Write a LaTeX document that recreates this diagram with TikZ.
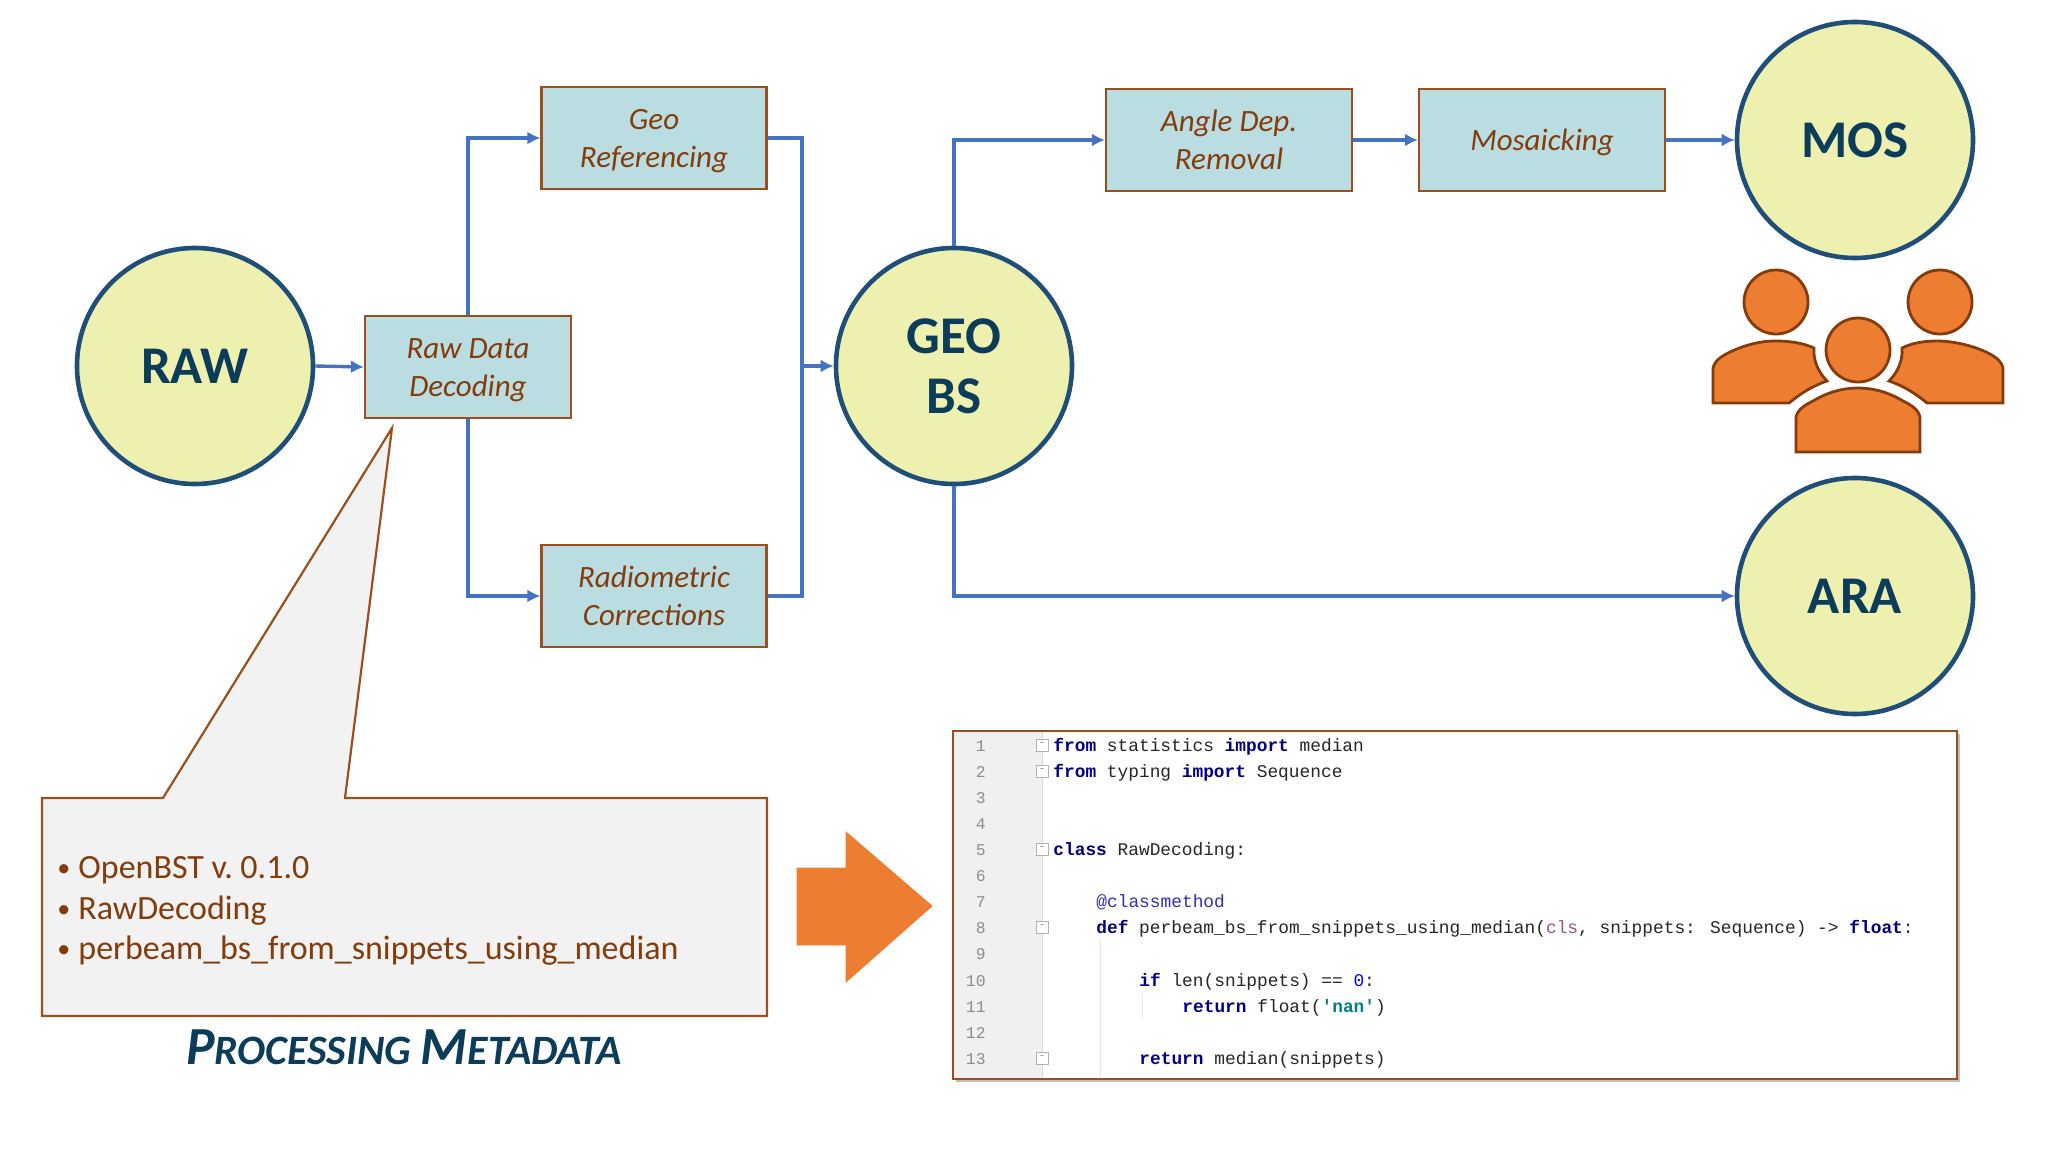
\documentclass[tikz,border=0pt]{standalone}
\usepackage{fontspec}
\setmainfont{Carlito}
\newfontfamily\codefont{Liberation Mono}
\usepackage{xcolor}
\usepackage{tikz}
\usetikzlibrary{arrows.meta, positioning, shapes.geometric, calc, shadows}
\definecolor{cwFlow}{HTML}{4472C4}
\definecolor{cwRing}{HTML}{1F4E79}
\definecolor{cwDisc}{HTML}{EEF0B0}
\definecolor{cwHead}{HTML}{0B3C5A}
\definecolor{cwStep}{HTML}{B9DDE0}
\definecolor{cwEdge}{HTML}{9C4F1C}
\definecolor{cwInk}{HTML}{843C0C}
\definecolor{cwOrange}{HTML}{ED7D31}
\definecolor{cwNote}{HTML}{F2F2F2}
\definecolor{cwGutter}{HTML}{F0F0F0}
\definecolor{cwKey}{HTML}{000080}
\definecolor{cwTeal}{HTML}{008080}
\definecolor{cwSelf}{HTML}{94558D}
\definecolor{cwDeco}{HTML}{3030B0}
\newcommand{\kw}[1]{{\color{cwKey}\bfseries #1}}
\newcommand{\bulletitem}[1]{\makebox[10.5pt][l]{\raisebox{0.8pt}{\fontsize{13}{13}\selectfont\textbullet}}#1}
\newcommand{\stepstrut}{\rule[-3.4pt]{0pt}{17.3pt}}
\tikzset{
    product/.style={circle,draw=cwRing,line width=2.3pt,fill=cwDisc,minimum size=118pt,inner sep=0pt,
        text=cwHead,font=\fontsize{26.5}{30}\selectfont\bfseries,align=center},
    stepbox/.style={rectangle,draw=cwEdge,line width=1.1pt,fill=cwStep,minimum height=51pt,inner sep=0pt,
        text=cwInk,font=\fontsize{15.5}{18.7}\selectfont\itshape,align=center},
    flow/.style={-{Latex[length=6.5pt,width=6.5pt]},line width=1.7pt,cwFlow},
    link/.style={line width=1.7pt,cwFlow},
    people/.style={draw=cwInk,line width=1.4pt,fill=cwOrange},
    noteline/.style={anchor=base west,inner sep=0pt,text=cwInk,font=\fontsize{17}{20}\selectfont},
    codeline/.style={anchor=base west,inner sep=0pt,text=black!85,font=\fontsize{8.92}{10}\codefont},
    lineno/.style={anchor=base east,inner sep=0pt,text=black!45,font=\fontsize{8.2}{10}\codefont},
    foldmark/.style={rectangle,draw=black!30,fill=white,line width=0.4pt,minimum size=6pt,inner sep=0pt,
        text=black!50,font=\fontsize{6}{6}\selectfont}
}

\begin{document}
\begin{tikzpicture}[x=0.5pt,y=-0.5pt]
    \useasboundingbox (0,0) rectangle (2048,1155);

    % Data products
    \node[product] (raw) at (195,366) {RAW};
    \node[product] (geobs) at (954,366) {GEO\\BS};
    \node[product] (mos) at (1855,140) {MOS};
    \node[product] (ara) at (1855,596) {ARA};

    % Processing steps
    \node[stepbox, minimum width=103pt] (decoding) at (468,367) {\stepstrut Raw Data\\\stepstrut Decoding};
    \node[stepbox, minimum width=112.5pt] (georef) at (654,138) {\stepstrut Geo\\\stepstrut Referencing};
    \node[stepbox, minimum width=112.5pt] (radio) at (654,596) {\stepstrut Radiometric\\\stepstrut Corrections};
    \node[stepbox, minimum width=123pt] (angle) at (1229,140) {\stepstrut Angle Dep.\\\stepstrut Removal};
    \node[stepbox, minimum width=123pt] (mosaic) at (1542,140) {\stepstrut Mosaicking};

    % Flow arrows
    \coordinate (join) at (802,366);
    \draw[flow] (raw.east) -- (decoding.west);
    \draw[flow] (decoding.north) |- (georef.west);
    \draw[flow] (decoding.south) |- (radio.west);
    \draw[link] (georef.east) -| (join);
    \draw[link] (radio.east) -| (join);
    \draw[flow] (join) -- (geobs.west);
    \draw[flow] (geobs.north) |- (angle.west);
    \draw[flow] (angle.east) -- (mosaic.west);
    \draw[flow] (mosaic.east) -- (mos.west);
    \draw[flow] (geobs.south) |- (ara.west);

    % Users icon
    \draw[people] (1776,302) circle[radius=32];
    \draw[people] (1940,302) circle[radius=32];
    \draw[people] (1858,350) circle[radius=32];
    \draw[people] (1713,403) -- (1713,368) .. controls (1715,360) and (1722,356) .. (1730,352)
        .. controls (1745,345) and (1760,341) .. (1775,341) .. controls (1790,341) and (1803,343) .. (1814,348)
        .. controls (1813,360) and (1818,372) .. (1827,381) .. controls (1812,386) and (1800,394) .. (1789,403) -- cycle;
    \draw[people] (2003,403) -- (2003,368) .. controls (2001,360) and (1994,356) .. (1986,352)
        .. controls (1971,345) and (1952,341) .. (1937,341) .. controls (1924,341) and (1912,343) .. (1902,348)
        .. controls (1903,360) and (1898,372) .. (1889,381) .. controls (1904,386) and (1916,394) .. (1927,403) -- cycle;
    \draw[people] (1796,452) -- (1796,417) .. controls (1798,409) and (1805,405) .. (1813,401)
        .. controls (1828,392) and (1843,388) .. (1858,388) .. controls (1873,388) and (1888,392) .. (1903,401)
        .. controls (1911,405) and (1918,409) .. (1920,417) -- (1920,452) -- cycle;

    % Metadata callout
    \draw[draw=cwEdge,line width=1.1pt,fill=cwNote] (42,798) -- (163,798) -- (392,428) -- (345,798)
        -- (767,798) -- (767,1016) -- (42,1016) -- cycle;
    \node[noteline] (item1) at (57,878) {\bulletitem{OpenBST v.\ 0.1.0}};
    \node[noteline] (item2) at (57,919) {\bulletitem{RawDecoding}};
    \node[noteline] (item3) at (57,959) {\bulletitem{perbeam\_bs\_from\_snippets\_using\_median}};
    \node[text=cwHead,font=\bfseries\itshape,inner sep=0pt] (metatitle) at (404,1047)
        {\fontsize{26.8}{28}\selectfont P\fontsize{20.9}{28}\selectfont ROCESSING \fontsize{26.8}{28}\selectfont M\fontsize{20.9}{28}\selectfont ETADATA};

    % Big arrow
    \draw[draw=cwOrange,fill=cwOrange] (797,868) -- (846,868) -- (846,832) -- (932,906)
        -- (846,982) -- (846,945) -- (797,945) -- cycle;

    % Code panel
    \fill[white,drop shadow={shadow xshift=1.5pt,shadow yshift=-1.5pt,opacity=0.5}] (953,731) rectangle (1957,1079);
    \fill[cwGutter] (953,731) rectangle (1042,1079);
    \draw[black!15] (1042,731) -- (1042,1079);
    \draw[black!10] (1100,940) -- (1100,1079);
    \draw[black!10] (1142,993) -- (1142,1018);
    \draw[draw=cwEdge,line width=1.1pt] (953,731) rectangle (1957,1079);

    % Line numbers
    \foreach \n/\y in {1/751,2/777,3/803,4/829,5/855,6/881,7/907,8/933,9/959,10/986,11/1012,12/1038,13/1064}
        \node[lineno] (num\n) at (986,\y) {\n};

    % Fold markers
    \node[foldmark] (fold1) at (1042,745) {-};
    \node[foldmark] (fold2) at (1042,771) {-};
    \node[foldmark] (fold5) at (1042,849) {-};
    \node[foldmark] (fold8) at (1042,927) {-};
    \node[foldmark] (fold13) at (1042,1058) {-};

    % Source lines
    \node[codeline] (code1) at (1053,751) {\kw{from} statistics \kw{import} median};
    \node[codeline] (code2) at (1053,777) {\kw{from} typing \kw{import} Sequence};
    \node[codeline] (code5) at (1053,855) {\kw{class} RawDecoding:};
    \node[codeline] (code7) at (1096,907) {{\color{cwDeco}@classmethod}};
    \node[codeline] (code8) at (1096,933) {\kw{def} perbeam\_bs\_from\_snippets\_using\_median({\color{cwSelf}cls}, snippets: Sequence) -> \kw{float}:};
    \node[codeline] (code10) at (1139,986) {\kw{if} len(snippets) == {\color{blue}0}:};
    \node[codeline] (code11) at (1182,1012) {\kw{return} float({\color{cwTeal}\bfseries 'nan'})};
    \node[codeline] (code13) at (1139,1064) {\kw{return} median(snippets)};
\end{tikzpicture}
\end{document}
